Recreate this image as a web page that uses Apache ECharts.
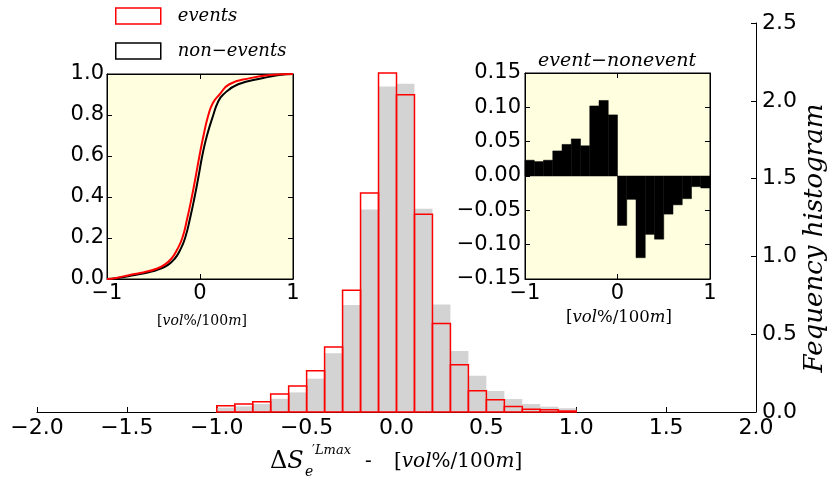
<!DOCTYPE html>
<html>
<head>
<meta charset="utf-8">
<script src="https://cdn.jsdelivr.net/npm/echarts@6/dist/echarts.min.js"></script>
<style>
  html, body { margin: 0; padding: 0; background: #fff; }
  #main { width: 829px; height: 479px; }
</style>
</head>
<body>
<div id="main"></div>
<script>
  // histogram bins (0.1 wide, -1 .. 1)
  const binEdges = [-1.0, -0.9, -0.8, -0.7, -0.6, -0.5, -0.4, -0.3, -0.2, -0.1, 0.0,
    0.1, 0.2, 0.3, 0.4, 0.5, 0.6, 0.7, 0.8, 0.9, 1.0]
  const eventsHist = [0.040, 0.051, 0.066, 0.115, 0.167, 0.265, 0.417, 0.783, 1.408, 2.178,
    2.039, 1.271, 0.569, 0.304, 0.137, 0.079, 0.036, 0.017, 0.015, 0.006]
  const nonEventsHist = [0.028, 0.036, 0.051, 0.085, 0.126, 0.214, 0.377, 0.687, 1.301, 2.092,
    2.110, 1.307, 0.691, 0.392, 0.233, 0.135, 0.083, 0.051, 0.034, 0.024]
  // event - nonevent inset
  const diffHist = [0.023, 0.021, 0.023, 0.0365, 0.046, 0.054, 0.044, 0.102, 0.110, 0.089,
    -0.072, -0.034, -0.119, -0.085, -0.092, -0.0555, -0.042, -0.033, -0.0155, -0.0175]
  // cumulative curves (x, F)
  const eventsCdf = [[-1, 0], [-0.9, 0.005], [-0.755, 0.02], [-0.6, 0.033], [-0.467, 0.05], [-0.38, 0.07],
    [-0.306, 0.1], [-0.25, 0.14], [-0.19, 0.2], [-0.135, 0.3], [-0.088, 0.4], [-0.046, 0.5],
    [-0.006, 0.6], [0.038, 0.7], [0.09, 0.8], [0.14, 0.86], [0.21, 0.9], [0.316, 0.95],
    [0.54, 0.98], [0.75, 0.995], [1, 1]]
  const nonEventsCdf = [[-1, 0], [-0.9, 0.004], [-0.7, 0.02], [-0.55, 0.033], [-0.43, 0.05], [-0.34, 0.07],
    [-0.27, 0.1], [-0.215, 0.14], [-0.16, 0.2], [-0.105, 0.3], [-0.058, 0.4], [-0.016, 0.5],
    [0.024, 0.6], [0.075, 0.7], [0.143, 0.8], [0.19, 0.86], [0.25, 0.9], [0.41, 0.95],
    [0.68, 0.98], [0.85, 0.995], [1, 1]]

  const SANS = 'DejaVu Sans'
  const SERIF = 'DejaVu Serif'

  function bins (values) {
    return values.map((v, i) => [binEdges[i], binEdges[i + 1], v])
  }

  function histRect (fill, stroke, lw) {
    return function (params, api) {
      const p0 = api.coord([api.value(0), api.value(2)])
      const p1 = api.coord([api.value(1), 0])
      return {
        type: 'rect',
        shape: {x: p0[0], y: Math.min(p0[1], p1[1]), width: p1[0] - p0[0], height: Math.abs(p1[1] - p0[1])},
        style: {fill: fill, stroke: stroke, lineWidth: lw}
      }
    }
  }

  function minusFmt (digits) {
    return function (v) {
      if (Math.abs(v) < 1e-9) return (0).toFixed(digits)
      return (v < 0 ? '\u2212' : '') + Math.abs(v).toFixed(digits)
    }
  }

  const tickIn = {show: true, inside: true, length: 5, lineStyle: {color: '#000', width: 1}}
  const lineBlack = {show: true, onZero: false, lineStyle: {color: '#000', width: 1}}

  function mainLabel (size, fmt, margin) {
    return {show: true, color: '#000', fontFamily: SANS, fontSize: size, margin: margin, formatter: fmt}
  }

  function sideAxis (gridIndex, position, min, max, interval) {
    return {
      type: 'value', gridIndex: gridIndex, position: position, min: min, max: max, interval: interval,
      axisLine: lineBlack, axisTick: tickIn, axisLabel: {show: false}, splitLine: {show: false}
    }
  }

  const chart = echarts.init(document.getElementById('main'), null, {renderer: 'canvas'})

  const serifRich = function (size) {
    return {
      n: {fontFamily: SERIF, fontSize: size, fill: '#000'},
      i: {fontFamily: SERIF, fontSize: size, fontStyle: 'italic', fill: '#000'}
    }
  }

  chart.setOption({
    animation: false,
    backgroundColor: '#fff',
    legend: {
      orient: 'vertical', left: 115, top: 7, padding: 0,
      icon: 'rect', itemWidth: 45, itemHeight: 16, itemGap: 17,
      textStyle: {fontFamily: SERIF, fontStyle: 'italic', fontSize: 18, color: '#000', padding: [0, 0, 0, 12], lineHeight: 16},
      data: [
        {name: 'events', itemStyle: {color: '#fff', borderColor: '#ff0000', borderWidth: 1.5}},
        {name: 'non\u2212events', itemStyle: {color: '#fff', borderColor: '#000', borderWidth: 1.5}}
      ]
    },
    grid: [
      {left: 37, right: 73, top: 23, bottom: 67},
      {left: 107, right: 536, top: 74, bottom: 200, show: true, backgroundColor: '#ffffe0', borderColor: '#000', borderWidth: 1},
      {left: 525, right: 119, top: 73, bottom: 200, show: true, backgroundColor: '#ffffe0', borderColor: '#000', borderWidth: 1}
    ],
    xAxis: [
      {
        type: 'value', gridIndex: 0, position: 'bottom', min: -2, max: 2, interval: 0.5,
        axisLine: lineBlack, axisTick: tickIn, axisLabel: mainLabel(22, minusFmt(1), 5), splitLine: {show: false}
      },
      {
        type: 'value', gridIndex: 1, position: 'bottom', min: -1, max: 1, interval: 1,
        axisLine: lineBlack, axisTick: tickIn, axisLabel: mainLabel(21, minusFmt(0), 4), splitLine: {show: false}
      },
      sideAxis(1, 'top', -1, 1, 1),
      {
        type: 'value', gridIndex: 2, position: 'bottom', min: -1, max: 1, interval: 1,
        axisLine: lineBlack, axisTick: tickIn, axisLabel: mainLabel(21, minusFmt(0), 4), splitLine: {show: false}
      },
      sideAxis(2, 'top', -1, 1, 1)
    ],
    yAxis: [
      {
        type: 'value', gridIndex: 0, position: 'right', min: 0, max: 2.5, interval: 0.5,
        axisLine: lineBlack, axisTick: tickIn, axisLabel: mainLabel(22, minusFmt(1), 6), splitLine: {show: false}
      },
      {
        type: 'value', gridIndex: 1, position: 'left', min: 0, max: 1, interval: 0.2,
        axisLine: lineBlack, axisTick: tickIn, axisLabel: mainLabel(21, minusFmt(1), 3), splitLine: {show: false}
      },
      sideAxis(1, 'right', 0, 1, 0.2),
      {
        type: 'value', gridIndex: 2, position: 'left', min: -0.15, max: 0.15, interval: 0.05,
        axisLine: lineBlack, axisTick: tickIn, axisLabel: mainLabel(21, minusFmt(2), 4), splitLine: {show: false}
      },
      sideAxis(2, 'right', -0.15, 0.15, 0.05)
    ],
    series: [
      {
        name: 'non\u2212events', type: 'custom', xAxisIndex: 0, yAxisIndex: 0,
        renderItem: histRect('#d3d3d3', null, 0), encode: {x: [0, 1], y: 2},
        data: bins(nonEventsHist), z: 2
      },
      {
        name: 'events', type: 'custom', xAxisIndex: 0, yAxisIndex: 0,
        renderItem: histRect('none', '#ff0000', 1.5), encode: {x: [0, 1], y: 2},
        data: bins(eventsHist), z: 3
      },
      {
        name: 'non-events cdf', type: 'line', xAxisIndex: 1, yAxisIndex: 1,
        data: nonEventsCdf, smooth: 0.5, showSymbol: false,
        lineStyle: {color: '#000', width: 2}, z: 3
      },
      {
        name: 'events cdf', type: 'line', xAxisIndex: 1, yAxisIndex: 1,
        data: eventsCdf, smooth: 0.5, showSymbol: false,
        lineStyle: {color: '#ff0000', width: 2}, z: 4
      },
      {
        name: 'event-nonevent', type: 'custom', xAxisIndex: 3, yAxisIndex: 3,
        renderItem: histRect('#000', '#000', 0.5), encode: {x: [0, 1], y: 2},
        data: bins(diffHist), z: 3
      }
    ],
    graphic: [
      {
        type: 'text', x: 617, y: 61,
        style: {text: 'event\u2212nonevent', font: 'italic 19px "DejaVu Serif"', fill: '#000', align: 'center', verticalAlign: 'middle'}
      },
      {
        type: 'text', x: 202, y: 321,
        style: {text: '{n|[}{i|vol}{n|%/100}{i|m}{n|]}', rich: serifRich(14), align: 'center', verticalAlign: 'middle'}
      },
      {
        type: 'text', x: 619, y: 318,
        style: {text: '{n|[}{i|vol}{n|%/100}{i|m}{n|]}', rich: serifRich(16.5), align: 'center', verticalAlign: 'middle'}
      },
      {
        type: 'text', x: 270, y: 462,
        style: {text: '{n|\u0394}{i|S}', rich: serifRich(24), align: 'left', verticalAlign: 'middle'}
      },
      {
        type: 'text', x: 312, y: 451,
        style: {text: '{n|\u2032}{i|Lmax}', rich: serifRich(13), align: 'left', verticalAlign: 'middle'}
      },
      {
        type: 'text', x: 305, y: 472,
        style: {text: 'e', font: 'italic 14px "DejaVu Serif"', fill: '#000', align: 'left', verticalAlign: 'middle'}
      },
      {
        type: 'text', x: 365, y: 462,
        style: {text: '-', font: '20px "DejaVu Serif"', fill: '#000', align: 'left', verticalAlign: 'middle'}
      },
      {
        type: 'text', x: 394, y: 462,
        style: {text: '{n|[}{i|vol}{n|%/100}{i|m}{n|]}', rich: serifRich(20), align: 'left', verticalAlign: 'middle'}
      },
      {
        type: 'text', x: 815, y: 238, rotation: Math.PI / 2,
        style: {text: 'Fequency histogram', font: 'italic 26px "DejaVu Serif"', fill: '#000', align: 'center', verticalAlign: 'middle'}
      }
    ]
  })
</script>
</body>
</html>
